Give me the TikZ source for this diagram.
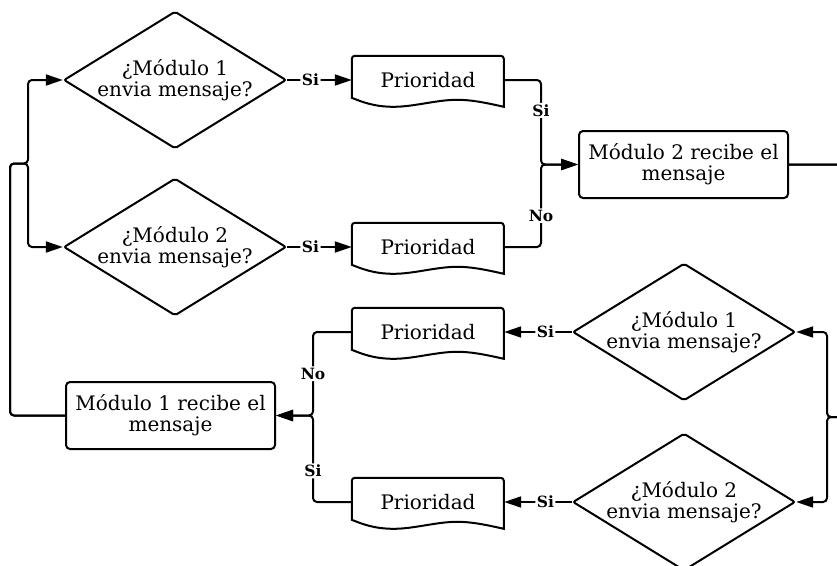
\documentclass[tikz,border=0pt]{standalone}
\usepackage{fontspec}
\setmainfont{DejaVu Serif}
\usetikzlibrary{shapes.geometric,arrows.meta}

\tikzset{
  line/.style={line width=2pt, rounded corners=4pt},
  arrow/.style={line, -{Triangle[length=17pt,width=11pt]}},
  decision/.style={diamond, draw, line width=2pt, rounded corners=2pt, aspect=1.62,
    minimum width=214pt, minimum height=132pt, inner sep=0pt, align=center},
  process/.style={rectangle, draw, line width=2pt, rounded corners=4pt,
    minimum width=209pt, minimum height=67pt, align=center},
  doc/.style={rectangle, minimum width=152pt, minimum height=48pt, inner sep=0pt},
  lbl/.style={fill=white, inner sep=1.5pt, font=\bfseries\fontsize{15.5}{16}\selectfont},
}

% document shape with wavy bottom, text node inside
\newcommand{\prio}[2]{%
  \node[doc] (#1) at (#2) {Prioridad};
  \begin{scope}[shift={(#1.north west)}]
    \draw[line width=2pt] (0,42) [rounded corners=3pt] -- (0,0) -- (152,0) [sharp corners] -- (152,51)
      .. controls (130,46) and (118,44) .. (105,44)
      .. controls (85,44) and (62,51) .. (42,51)
      .. controls (22,51) and (10,46) .. cycle;
  \end{scope}
}

\begin{document}
\begin{tikzpicture}[x=1pt, y=-1pt, font=\fontsize{20}{21}\selectfont]
  \fill[white] (0,0) rectangle (837,565);
  \path[use as bounding box] (0,0) rectangle (837,565);
  \clip (0,0) rectangle (837,565);

  % upper half
  \node[decision] (d1) at (175,80) {¿Módulo 1\\envia mensaje?};
  \node[decision] (d2) at (175,247) {¿Módulo 2\\envia mensaje?};
  \prio{p1}{428,80}
  \prio{p2}{428,247}
  \node[process] (m2) at (683.5,164.5) {Módulo 2 recibe el\\mensaje};

  % lower half
  \node[decision] (d3) at (684,332) {¿Módulo 1\\envia mensaje?};
  \node[decision] (d4) at (684,502) {¿Módulo 2\\envia mensaje?};
  \prio{p3}{428,332}
  \prio{p4}{428,502}
  \node[process] (m1) at (170.5,415.5) {Módulo 1 recibe el\\mensaje};

  \coordinate (jl) at (28,163.5);
  \coordinate (jr) at (541,164.5);
  \coordinate (jq) at (827,417);
  \coordinate (jm) at (313,415.5);

  % module 1 back to both questions
  \draw[arrow] (m1.west) -- ++(-55,0) |- (jl) |- (d1.west);
  \draw[arrow] (m1.west) -- ++(-55,0) |- (jl) |- (d2.west);

  \draw[arrow] (d1.east) -- node[lbl, pos=0.36] {Si} (p1.west);
  \draw[arrow] (d2.east) -- node[lbl, pos=0.36] {Si} (p2.west);

  \draw[arrow] (p1.east) -| node[lbl, pos=0.68] {Si} (jr) -- (m2.west);
  \draw[arrow] (p2.east) -| node[lbl, pos=0.69] {No} (jr) -- (m2.west);

  % module 2 around to the lower questions
  \draw[arrow] (m2.east) -- ++(62,0) |- (jq) |- (d3.east);
  \draw[arrow] (m2.east) -- ++(62,0) |- (jq) |- (d4.east);

  \draw[arrow] (d3.west) -- node[lbl, pos=0.39] {Si} (p3.east);
  \draw[arrow] (d4.west) -- node[lbl, pos=0.39] {Si} (p4.east);

  \draw[arrow] (p3.west) -| node[lbl, pos=0.75] {No} (jm) -- (m1.east);
  \draw[arrow] (p4.west) -| node[lbl, pos=0.68] {Si} (jm) -- (m1.east);
\end{tikzpicture}
\end{document}
